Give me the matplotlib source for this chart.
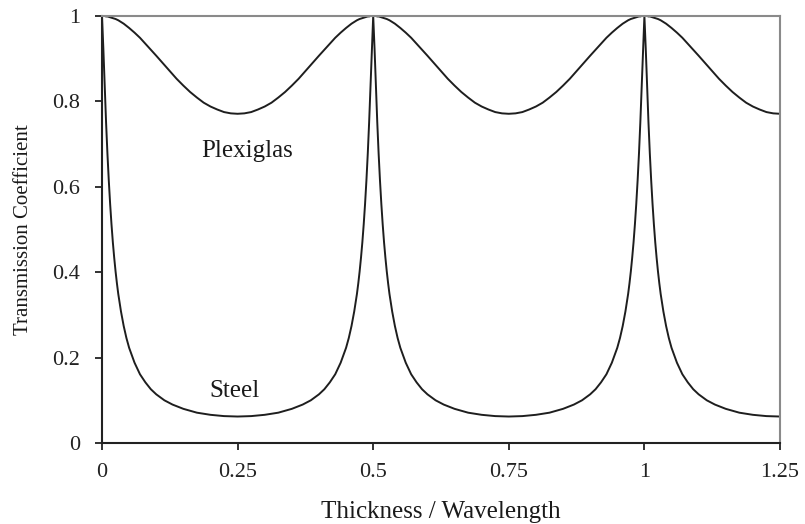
import matplotlib
matplotlib.use("Agg")
import matplotlib.pyplot as plt

# ---- Steel curve: Thickness / Wavelength and transmission
steel_thickness = [
    0.0, 0.0025, 0.005, 0.0075, 0.01, 0.0125, 0.015, 0.0175, 0.02, 0.0225,
    0.025, 0.0275, 0.03, 0.035, 0.04, 0.045, 0.05, 0.06, 0.07, 0.08, 0.09, 0.10,
    0.115, 0.13, 0.15, 0.175, 0.2, 0.225, 0.25,
    0.275, 0.3, 0.325, 0.35, 0.37, 0.385, 0.4, 0.41, 0.42, 0.43, 0.44, 0.45,
    0.455, 0.46, 0.465, 0.47, 0.4725, 0.475, 0.4775, 0.48, 0.4825, 0.485, 0.4875,
    0.49, 0.4925, 0.495, 0.4975,
    0.5, 0.5025, 0.505, 0.5075, 0.51, 0.5125, 0.515, 0.5175, 0.52, 0.5225,
    0.525, 0.5275, 0.53, 0.535, 0.54, 0.545, 0.55, 0.56, 0.57, 0.58, 0.59, 0.60,
    0.615, 0.63, 0.65, 0.675, 0.70, 0.725, 0.75,
    0.775, 0.80, 0.825, 0.85, 0.87, 0.885, 0.90, 0.91, 0.92, 0.93, 0.94, 0.95,
    0.955, 0.96, 0.965, 0.97, 0.9725, 0.975, 0.9775, 0.98, 0.9825, 0.985, 0.9875,
    0.99, 0.9925, 0.995, 0.9975,
    1.0, 1.0025, 1.005, 1.0075, 1.01, 1.0125, 1.015, 1.0175, 1.02, 1.0225,
    1.025, 1.0275, 1.03, 1.035, 1.04, 1.045, 1.05, 1.06, 1.07, 1.08, 1.09, 1.10,
    1.115, 1.13, 1.15, 1.175, 1.2, 1.225, 1.25,
]
steel = [
    1.000, 0.923, 0.834, 0.751, 0.678, 0.615, 0.560, 0.512, 0.470, 0.434,
    0.402, 0.374, 0.349, 0.308, 0.274, 0.246, 0.223, 0.188, 0.161, 0.142, 0.126, 0.114,
    0.100, 0.090, 0.080, 0.071, 0.066, 0.063, 0.062,
    0.063, 0.066, 0.071, 0.080, 0.090, 0.100, 0.114, 0.126, 0.142, 0.161, 0.188, 0.223,
    0.246, 0.274, 0.308, 0.349, 0.374, 0.402, 0.434, 0.470, 0.512, 0.560, 0.615,
    0.678, 0.751, 0.834, 0.923,
    1.000, 0.923, 0.834, 0.751, 0.678, 0.615, 0.560, 0.512, 0.470, 0.434,
    0.402, 0.374, 0.349, 0.308, 0.274, 0.246, 0.223, 0.188, 0.161, 0.142, 0.126, 0.114,
    0.100, 0.090, 0.080, 0.071, 0.066, 0.063, 0.062,
    0.063, 0.066, 0.071, 0.080, 0.090, 0.100, 0.114, 0.126, 0.142, 0.161, 0.188, 0.223,
    0.246, 0.274, 0.308, 0.349, 0.374, 0.402, 0.434, 0.470, 0.512, 0.560, 0.615,
    0.678, 0.751, 0.834, 0.923,
    1.000, 0.923, 0.834, 0.751, 0.678, 0.615, 0.560, 0.512, 0.470, 0.434,
    0.402, 0.374, 0.349, 0.308, 0.274, 0.246, 0.223, 0.188, 0.161, 0.142, 0.126, 0.114,
    0.100, 0.090, 0.080, 0.071, 0.066, 0.063, 0.062,
]

# ---- Plexiglas curve
plexiglas_thickness = [
    0.0, 0.0025, 0.005, 0.0075, 0.01, 0.0125, 0.015, 0.0175, 0.02, 0.025, 0.03,
    0.035, 0.04, 0.045, 0.05, 0.06, 0.07, 0.08, 0.09, 0.10, 0.1125, 0.125,
    0.1375, 0.15, 0.1625, 0.175, 0.1875, 0.20, 0.2125, 0.225, 0.2375, 0.25,
    0.2625, 0.275, 0.2875, 0.30, 0.3125, 0.325, 0.3375, 0.35, 0.3625, 0.375,
    0.3875, 0.40, 0.41, 0.42, 0.43, 0.44, 0.45, 0.455, 0.46, 0.465, 0.47, 0.475,
    0.48, 0.4825, 0.485, 0.4875, 0.49, 0.4925, 0.495, 0.4975,
    0.5, 0.5025, 0.505, 0.5075, 0.51, 0.5125, 0.515, 0.5175, 0.52, 0.525, 0.53,
    0.535, 0.54, 0.545, 0.55, 0.56, 0.57, 0.58, 0.59, 0.60, 0.6125, 0.625,
    0.6375, 0.65, 0.6625, 0.675, 0.6875, 0.70, 0.7125, 0.725, 0.7375, 0.75,
    0.7625, 0.775, 0.7875, 0.80, 0.8125, 0.825, 0.8375, 0.85, 0.8625, 0.875,
    0.8875, 0.90, 0.91, 0.92, 0.93, 0.94, 0.95, 0.955, 0.96, 0.965, 0.97, 0.975,
    0.98, 0.9825, 0.985, 0.9875, 0.99, 0.9925, 0.995, 0.9975,
    1.0, 1.0025, 1.005, 1.0075, 1.01, 1.0125, 1.015, 1.0175, 1.02, 1.025, 1.03,
    1.035, 1.04, 1.045, 1.05, 1.06, 1.07, 1.08, 1.09, 1.10, 1.1125, 1.125,
    1.1375, 1.15, 1.1625, 1.175, 1.1875, 1.20, 1.2125, 1.225, 1.2375, 1.25,
]
plexiglas = [
    1.000, 1.000, 1.000, 0.999, 0.999, 0.998, 0.997, 0.996, 0.995, 0.993, 0.990,
    0.986, 0.982, 0.977, 0.972, 0.961, 0.949, 0.935, 0.921, 0.907, 0.889, 0.871,
    0.853, 0.837, 0.822, 0.809, 0.797, 0.788, 0.781, 0.775, 0.772, 0.771,
    0.772, 0.775, 0.781, 0.788, 0.797, 0.809, 0.822, 0.837, 0.853, 0.871,
    0.889, 0.907, 0.921, 0.935, 0.949, 0.961, 0.972, 0.977, 0.982, 0.986, 0.990, 0.993,
    0.995, 0.996, 0.997, 0.998, 0.999, 0.999, 1.000, 1.000,
    1.000, 1.000, 1.000, 0.999, 0.999, 0.998, 0.997, 0.996, 0.995, 0.993, 0.990,
    0.986, 0.982, 0.977, 0.972, 0.961, 0.949, 0.935, 0.921, 0.907, 0.889, 0.871,
    0.853, 0.837, 0.822, 0.809, 0.797, 0.788, 0.781, 0.775, 0.772, 0.771,
    0.772, 0.775, 0.781, 0.788, 0.797, 0.809, 0.822, 0.837, 0.853, 0.871,
    0.889, 0.907, 0.921, 0.935, 0.949, 0.961, 0.972, 0.977, 0.982, 0.986, 0.990, 0.993,
    0.995, 0.996, 0.997, 0.998, 0.999, 0.999, 1.000, 1.000,
    1.000, 1.000, 1.000, 0.999, 0.999, 0.998, 0.997, 0.996, 0.995, 0.993, 0.990,
    0.986, 0.982, 0.977, 0.972, 0.961, 0.949, 0.935, 0.921, 0.907, 0.889, 0.871,
    0.853, 0.837, 0.822, 0.809, 0.797, 0.788, 0.781, 0.775, 0.772, 0.771,
]

x_ticks = [0, 0.25, 0.5, 0.75, 1, 1.25]
x_tick_labels = ["0", "0.25", "0.5", "0.75", "1", "1.25"]
y_ticks = [0, 0.2, 0.4, 0.6, 0.8, 1]
y_tick_labels = ["0", "0.2", "0.4", "0.6", "0.8", "1"]

plt.rcParams["font.family"] = ["Liberation Serif", "DejaVu Serif"]

fig = plt.figure(figsize=(8.05, 5.24), dpi=100)
ax = fig.add_axes([102 / 805, 1 - 443 / 524, (780 - 102) / 805, (443 - 16) / 524])

line_color = "#1e1e1e"
ax.plot(plexiglas_thickness, plexiglas, color=line_color, lw=1.4,
        solid_joinstyle="round")
ax.plot(steel_thickness, steel, color=line_color, lw=1.4,
        solid_joinstyle="round")

ax.set_xlim(0, 1.25)
ax.set_ylim(0, 1)
ax.set_xticks(x_ticks)
ax.set_xticklabels(x_tick_labels)
ax.set_yticks(y_ticks)
ax.set_yticklabels(y_tick_labels)

ax.tick_params(axis="x", direction="out", length=5, width=1.3, pad=9.5,
               labelsize=16, colors="#222222")
ax.tick_params(axis="y", direction="out", length=5, width=1.3, pad=10.5,
               labelsize=16, colors="#222222")

for side in ["left", "bottom"]:
    ax.spines[side].set_color("#222222")
    ax.spines[side].set_linewidth(1.5)
for side in ["top", "right"]:
    ax.spines[side].set_color("#8a8a8a")
    ax.spines[side].set_linewidth(1.5)

ax.set_xlabel("Thickness / Wavelength", fontsize=18, color="#1a1a1a")
ax.xaxis.label.set_va("center")
ax.xaxis.set_label_coords(0.5, -0.162)
ax.set_ylabel("Transmission Coefficient", fontsize=15, color="#1a1a1a")
ax.yaxis.label.set_va("center")
ax.yaxis.set_label_coords(-0.1165, 0.5)

ax.text(0.268, 0.685, "Plexiglas", fontsize=18, ha="center", va="center",
        color="#1a1a1a")
ax.text(0.245, 0.122, "Steel", fontsize=18, ha="center", va="center",
        color="#1a1a1a")

fig.savefig("out.png", dpi=100, facecolor="white")
